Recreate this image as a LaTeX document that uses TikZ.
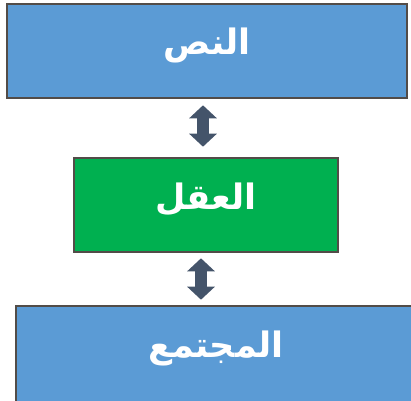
\documentclass[tikz,border=0pt]{standalone}
\usepackage{fontspec}
\usetikzlibrary{arrows.meta}
\newfontfamily\arabicfont[Script=Arabic]{DejaVu Sans}
\TeXXeTstate=1
\definecolor{boxblue}{RGB}{91,155,213}
\definecolor{boxgreen}{RGB}{0,176,80}
\definecolor{edgec}{RGB}{82,76,72}
\definecolor{arrowc}{RGB}{68,84,106}
\tikzset{
  box/.style={draw=edgec, line width=2.6pt, minimum height=94pt, inner sep=0pt},
  lbl/.style={text=white, inner sep=0pt, yshift=6pt,
    font=\arabicfont\bfseries\fontsize{35}{40}\selectfont},
  dblarrow/.style={arrowc, line width=12pt,
    {Triangle[length=13pt,width=27pt]}-{Triangle[length=13pt,width=27pt]}}
}
\begin{document}
\begin{tikzpicture}[x=1pt,y=-1pt]
\useasboundingbox (0,0) rectangle (411,400);
\begin{scope}
\clip (0,0) rectangle (411,400);
\node[box, fill=boxblue, minimum width=400pt] (text) at (207,51) {};
\node[box, fill=boxgreen, minimum width=264pt] (mind) at (206,205) {};
\node[box, fill=boxblue, minimum width=400pt, minimum height=96pt] (soc) at (216,354) {};
\node[lbl] (textlbl) at (text.center) {\beginR النص\endR};
\node[lbl] (mindlbl) at (mind.center) {\beginR العقل\endR};
\node[lbl] (soclbl) at (soc.center) {\beginR المجتمع\endR};
\coordinate (a1) at (203,0);
\coordinate (a2) at (201,0);
\draw[dblarrow, shorten <=6pt, shorten >=10pt] (text.south -| a1) -- (mind.north -| a1);
\draw[dblarrow, shorten <=5pt, shorten >=5pt] (mind.south -| a2) -- (soc.north -| a2);
\end{scope}
\end{tikzpicture}
\end{document}
